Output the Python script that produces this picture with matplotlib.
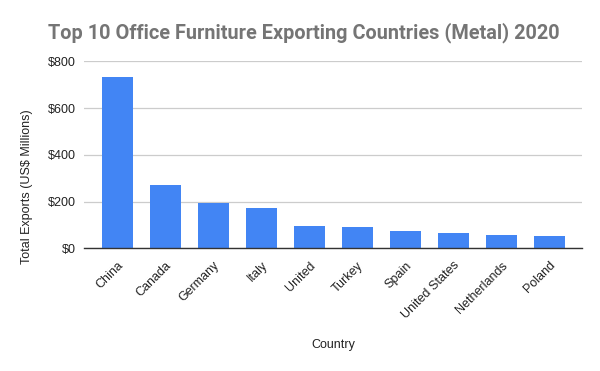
import matplotlib
matplotlib.use("Agg")
import matplotlib.pyplot as plt

countries = ["China", "Canada", "Germany", "Italy", "United", "Turkey",
             "Spain", "United States", "Netherlands", "Poland"]
exports = [733, 271, 194, 172, 95, 91, 74, 66, 57, 53]
yticks = [0, 200, 400, 600, 800]
ylabels = ["$0", "$200", "$400", "$600", "$800"]

fig = plt.figure(figsize=(6, 3.71), dpi=100)
ax = fig.add_axes((0.1405, 0.3307, 0.829, 0.5041))

ax.bar(range(len(countries)), exports, width=0.64, color="#4285F4", zorder=3)
ax.set_xlim(-0.6875, 9.675)
ax.set_ylim(0, 800)

ax.set_yticks(yticks)
ax.set_yticklabels(ylabels, family="Liberation Sans", fontsize=9, color="#222222")
ax.set_xticks(range(len(countries)))
ax.set_xticklabels(countries, rotation=45, ha="right", rotation_mode="anchor",
                   family="Liberation Sans", fontsize=9, color="#222222")
ax.tick_params(axis="both", length=0)
ax.tick_params(axis="x", pad=8)
ax.tick_params(axis="y", pad=6)

ax.grid(axis="y", color="#cccccc", lw=0.9, zorder=0)
for s in ["top", "right", "left"]:
    ax.spines[s].set_visible(False)
ax.spines["bottom"].set_color("#333333")
ax.spines["bottom"].set_linewidth(1.0)
ax.spines["bottom"].set_zorder(4)

fig.text(27 / 600, 1 - 187 / 371, "Total Exports (US$ Millions)", rotation=90,
         family="Liberation Sans", fontsize=9, color="#222222",
         ha="center", va="center")
fig.text(333 / 600, 1 - 345 / 371, "Country", family="Liberation Sans", fontsize=9,
         color="#222222", ha="center", va="center")
fig.text(48 / 600, 1 - 33 / 371, "Top 10 Office Furniture Exporting Countries (Metal) 2020",
         family="Roboto", fontweight="bold", fontsize=14.3, color="#757575",
         ha="left", va="center")

fig.savefig("out.png", dpi=100)
